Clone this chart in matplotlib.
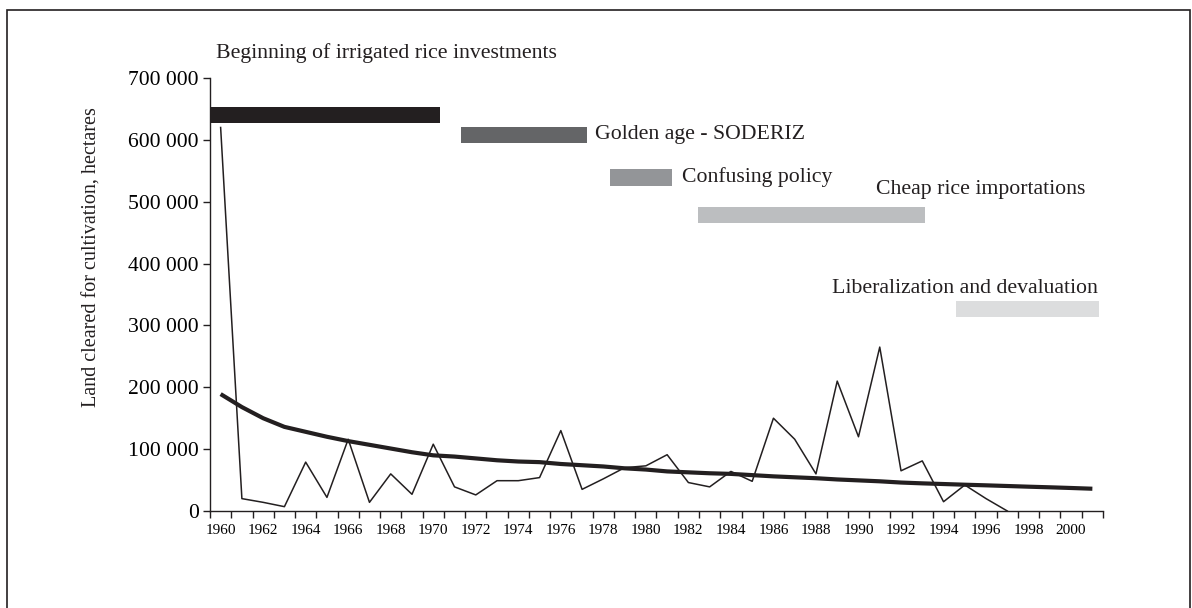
import numpy as np
import matplotlib
matplotlib.use('Agg')
import matplotlib.pyplot as plt
from matplotlib.patches import Rectangle
from matplotlib.ticker import FuncFormatter

plt.rcParams['font.family'] = ['Liberation Serif', 'DejaVu Serif']

# ---- data ----
years = list(range(1960, 1998))
cleared = [620000, 20000, 14000, 7000, 79000, 22000, 116000, 14000, 60000, 27000,
           108000, 39000, 26000, 49000, 49000, 54000, 130000, 35000, 52000, 70000,
           73000, 91000, 46000, 39000, 64000, 48000, 150000, 116000, 60000, 210000,
           120000, 265000, 65000, 81000, 15000, 42000, 20000, 0]

trend_years = list(range(1960, 2002))
trend = [189000, 168000, 150000, 136000, 128000, 120000, 113000, 107000, 101000, 95000,
         90000, 88000, 85000, 82000, 80000, 79000, 76000, 74000, 72000, 69000,
         67000, 64000, 62500, 61000, 60000, 58000, 56000, 54500, 53000, 51000,
         49500, 48000, 46000, 44700, 43600, 42500, 41500, 40400, 39300, 38300,
         37200, 36000]

period_labels = ['Beginning of irrigated rice investments', 'Golden age - SODERIZ',
                 'Confusing policy', 'Cheap rice importations',
                 'Liberalization and devaluation']
period_start = [1959.5, 1971.3, 1978.3, 1982.45, 1994.6]
period_end = [1970.3, 1977.25, 1981.25, 1993.15, 2001.3]

# ---- layout / style ----
bar_bottom = [627700, 594500, 525400, 465500, 313600]
bar_height = [26000, 26000, 27500, 26000, 26000]
bar_colors = ['#231f20', '#646567', '#939598', '#bcbec0', '#dcddde']
# (x, y, ha) for each label
label_pos = [(1959.78, 740000, 'left'), (1977.6, 609000, 'left'),
             (1981.7, 540000, 'left'), (2000.65, 519000, 'right'),
             (2001.25, 360000, 'right')]

W, H = 1192, 608
fig = plt.figure(figsize=(W / 100, H / 100), dpi=100)
ax = fig.add_axes([210 / W, 1 - 511 / H, (1103 - 210) / W, (511 - 78) / H])

ax.plot(years, cleared, color='#231f20', linewidth=1.1)
ax.plot(trend_years, trend, color='#231f20', linewidth=3.0, solid_capstyle='butt')

for x0, x1, b, h, c in zip(period_start, period_end, bar_bottom, bar_height, bar_colors):
    ax.add_patch(Rectangle((x0, b), x1 - x0, h, facecolor=c, edgecolor='none',
                           clip_on=False))
for lab, (x, y, ha) in zip(period_labels, label_pos):
    ax.text(x, y, lab, ha=ha, va='center', fontsize=15.7, color='#231f20',
            clip_on=False)

ax.set_xlim(1959.5, 2001.5)
ax.set_ylim(0, 700000)
for s in ['top', 'right']:
    ax.spines[s].set_visible(False)
for s in ['left', 'bottom']:
    ax.spines[s].set_color('#231f20')
    ax.spines[s].set_linewidth(1.0)

ax.set_xticks(np.arange(1959.5, 2002, 1.0))
ax.set_xticklabels([])
ax.set_xticks(np.arange(1960, 2001, 2), minor=True)
ax.set_xticklabels([str(y) for y in range(1960, 2001, 2)], minor=True, fontsize=11)
ax.tick_params(axis='x', which='major', direction='out', length=5, width=1, color='#231f20')
ax.tick_params(axis='x', which='minor', length=0, pad=9)

ax.set_yticks(np.arange(0, 700001, 100000))
ax.yaxis.set_major_formatter(FuncFormatter(lambda v, p: f'{int(v):,}'.replace(',', ' ')))
ax.tick_params(axis='y', direction='out', length=5, width=1, color='#231f20',
               labelsize=15.6, pad=3)

fig.text(92 / W, 1 - 257 / H, 'Land cleared for cultivation, hectares', rotation=90,
         ha='center', va='center', fontsize=14.5, color='#231f20')

# frame round the figure
fig.add_artist(Rectangle((7 / W, -0.02), (1189.5 - 7) / W, 1.02 - 10 / H,
                         transform=fig.transFigure, fill=False,
                         edgecolor='#231f20', linewidth=1.2))

fig.savefig('out.png', dpi=100)
